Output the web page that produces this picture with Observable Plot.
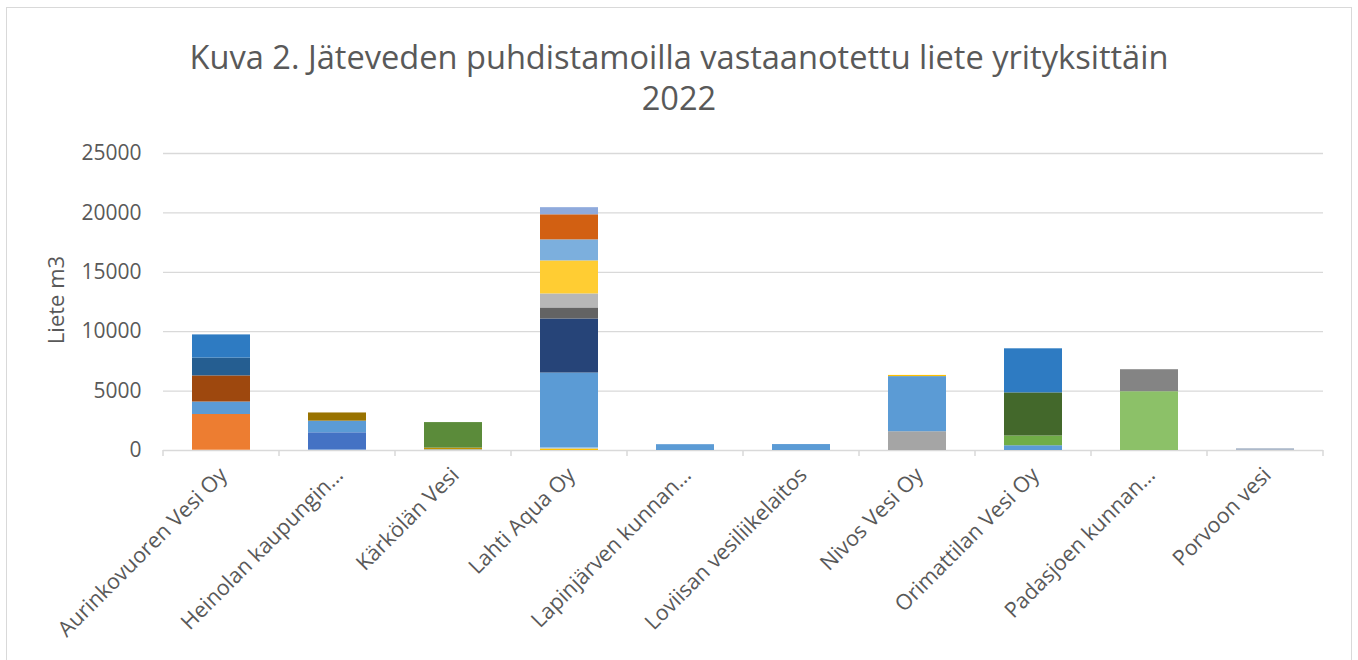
<!DOCTYPE html>
<html><head><meta charset="utf-8">
<script src="https://cdn.jsdelivr.net/npm/d3@7"></script>
<script src="https://cdn.jsdelivr.net/npm/@observablehq/plot@0.6"></script>
<style>
body{margin:0;background:#fff;font-family:"Open Sans",sans-serif;}
#wrap{position:relative;width:1358px;height:660px;overflow:hidden;}
#frame{position:absolute;left:6px;top:7px;width:1346px;height:700px;border:1.5px solid #d9d9d9;box-sizing:border-box;}
#chart{position:absolute;left:0;top:0;}
#title{position:absolute;left:6px;width:1346px;top:36px;text-align:center;font-size:32.6px;line-height:41px;color:#595959;}
#ylabel{position:absolute;left:55px;top:300px;transform:translate(-50%,-50%) rotate(-90deg);font-size:22px;color:#595959;white-space:nowrap;}
</style></head>
<body>
<div id="wrap">
  <div id="frame"></div>
  <div id="chart"></div>
  <div id="title">Kuva 2. Jäteveden puhdistamoilla vastaanotettu liete yrityksittäin<br>2022</div>
  <div id="ylabel">Liete m3</div>
</div>
<script>
// Categories (x axis labels as shown, truncated like the original)
const companies = [
  "Aurinkovuoren Vesi Oy",
  "Heinolan kaupungin…",
  "Kärkölän Vesi",
  "Lahti Aqua Oy",
  "Lapinjärven kunnan…",
  "Loviisan vesiliikelaitos",
  "Nivos Vesi Oy",
  "Orimattilan Vesi Oy",
  "Padasjoen kunnan…",
  "Porvoon vesi"
];
const yTicks = [0, 5000, 10000, 15000, 20000, 25000];

// Stacked segment values (m3), bottom to top, one array per company
const aurinkovuoriValues = [30, 3000, 1050, 2200, 1500, 1950];
const heinolaValues = [40, 1450, 980, 690];
const karkolaValues = [60, 140, 2150];
const lahtiValues = [130, 90, 6300, 4550, 930, 1180, 2780, 1770, 2110, 600];
const lapinjarviValues = [490];
const loviisaValues = [500];
const nivosValues = [1580, 4640, 100];
const orimattilaValues = [400, 820, 3630, 3710];
const padasjokiValues = [4950, 1850];
const porvooValues = [150];

const segmentValues = [aurinkovuoriValues, heinolaValues, karkolaValues, lahtiValues,
  lapinjarviValues, loviisaValues, nivosValues, orimattilaValues, padasjokiValues, porvooValues];

// Segment colours (style), matching the segments above
const segmentColors = [
  ["#F4B183", "#ED7D31", "#5B9BD5", "#9E480E", "#255E91", "#2E7BC2"],
  ["#9DC3E6", "#4472C4", "#5B9BD5", "#997300"],
  ["#9DC3E6", "#BF9000", "#5B8B3A"],
  ["#FFC000", "#9DC3E6", "#5B9BD5", "#264478", "#636363", "#B7B7B7", "#FFCD33", "#7CAFDD", "#D26012", "#8FAADC"],
  ["#5B9BD5"],
  ["#5B9BD5"],
  ["#A5A5A5", "#5B9BD5", "#FFC000"],
  ["#5B9BD5", "#70AD47", "#43682B", "#2E7BC2"],
  ["#8CC168", "#848484"],
  ["#ADB9CA"]
];

const rows = [];
companies.forEach((c, i) => segmentValues[i].forEach((v, j) =>
  rows.push({company: c, layer: `${i}-${j}`, value: v, color: segmentColors[i][j]})));

const chart = Plot.plot({
  width: 1358, height: 660,
  marginTop: 153, marginBottom: 210, marginLeft: 163, marginRight: 35,
  style: {fontFamily: '"Open Sans", sans-serif', fontSize: "21px", color: "#595959", background: "transparent"},
  x: {domain: companies, paddingInner: 0.5, paddingOuter: 0.25, label: null},
  y: {domain: [0, 25000], label: null},
  marks: [
    Plot.gridY(yTicks, {stroke: "#d9d9d9", strokeOpacity: 1, strokeWidth: 1.3}),
    Plot.axisY(yTicks, {tickSize: 0, tickPadding: 22, tickFormat: d => String(d), fill: "#595959", label: null}),
    Plot.axisX({tickSize: 0, tickRotate: -45, tickPadding: 14, dx: 2, dy: 7, fontSize: "21.5px", fill: "#595959", label: null}),
    Plot.barY(rows, {x: "company", y: "value", z: "layer", fill: "color"})
  ]
});
document.getElementById("chart").appendChild(chart);

// Category boundary tick marks below the axis, from the library's scales
const xs = chart.scale("x");
const ys = chart.scale("y");
const bw = xs.bandwidth;
const bounds = companies.map(c => xs.apply(c) - bw / 2);
bounds.push(xs.apply(companies[companies.length - 1]) + bw * 1.5);
const y0 = ys.apply(0);
d3.select(chart).append("g").selectAll("line").data(bounds).join("line")
  .attr("x1", d => d).attr("x2", d => d).attr("y1", y0).attr("y2", y0 + 6)
  .attr("stroke", "#d9d9d9").attr("stroke-width", 1.5);
</script>
</body></html>
